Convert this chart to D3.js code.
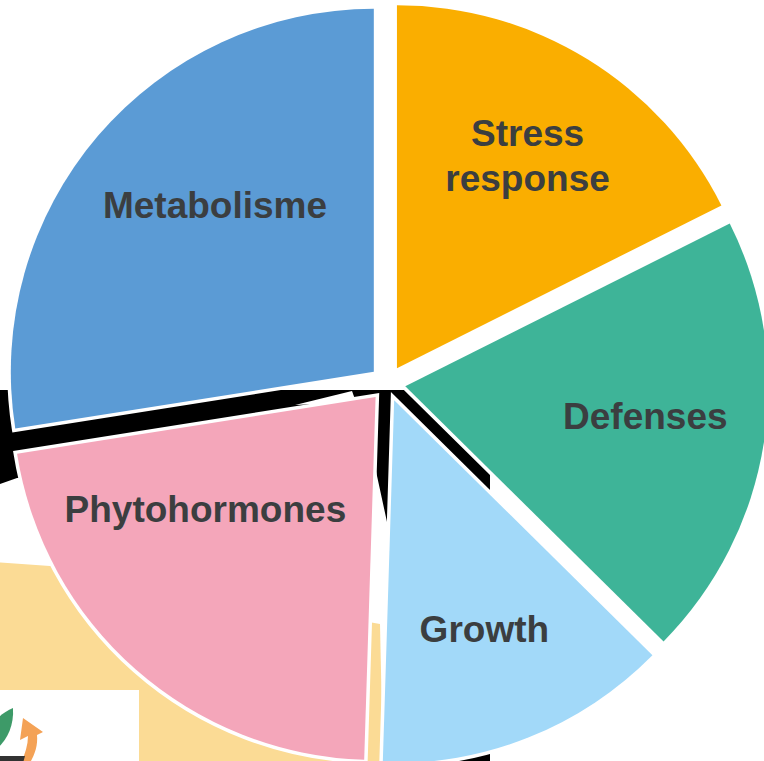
<!DOCTYPE html>
<html><head><meta charset="utf-8">
<script src="https://cdn.jsdelivr.net/npm/d3@7/dist/d3.min.js"></script>
<style>html,body{margin:0;padding:0;background:#fff;overflow:hidden}svg{display:block}</style>
</head><body><svg id="c" width="764" height="761"></svg>
<script>
const categories = ["Stress response","Defenses","Growth","Phytohormones","Metabolisme"];
const values = [17.6,19.8,13.1,22.0,27.5];
const colors = ["#FAAE00","#3EB498","#A2D9F9","#F4A6BA","#5B9BD5"];
const labelLines = [["Stress","response"],["Defenses"],["Growth"],["Phytohormones"],["Metabolisme"]];

const W=764,H=761,cx=387.5,cy=383.5,R=363,explode=18,labelR=243;
const labelNudge=[[3,-6],[0,-8],[0,3],[-9.5,-70],[26,-9]];
const svg=d3.select("#c");

// backdrop left over behind the pie
const defs=svg.append("defs");
defs.append("filter").attr("id","soft").append("feGaussianBlur").attr("stdDeviation",0.7);
const bg=svg.append("g");
const line=d3.line();
bg.append("path").attr("fill","#000").attr("d",line([[0,390],[352,390],[490,390],[490,490],[420,490],[387,522],[374,462],[17,478],[0,484]])+"Z");
bg.append("path").attr("fill","#fff").attr("d",line([[295,405],[352,391],[356,402]])+"Z");
bg.append("rect").attr("x",440).attr("y",740).attr("width",50).attr("height",21).attr("fill","#000");
bg.append("path").attr("fill","#FBDB95").attr("filter","url(#soft)").attr("d",line([[-5,562],[50,566],[380,624],[383,766],[-5,766]])+"Z");
bg.append("rect").attr("x",0).attr("y",690).attr("width",139).attr("height",71).attr("fill","#fff");
const logo=bg.append("g").attr("filter","url(#soft)");
logo.append("path").attr("fill","#3E9A68").attr("d","M13,708 C14,725 8,738 -2,748 L-2,718 C3,713 8,710 13,708Z");
logo.append("path").attr("fill","#F4A257").attr("d","M23,718 L43,732 L37,735 C38,745 35,754 30,763 L21,763 C25,754 28,745 28,736 L20,740 Z");
logo.append("path").attr("fill","#333").attr("d","M-2,756 L25,756 L23,763 L-2,763Z");

// pie
const pie=d3.pie().sort(null).value(d=>d);
const arcs=pie(values);
const arc=d3.arc().innerRadius(0).outerRadius(R);
const ang=d=>(d.startAngle+d.endAngle)/2;
const g=svg.append("g").attr("transform",`translate(${cx},${cy})`);
const off=d=>[Math.sin(ang(d))*explode,-Math.cos(ang(d))*explode];
g.selectAll("path").data(arcs).join("path")
 .attr("d",arc)
 .attr("transform",d=>`translate(${off(d)})`)
 .attr("fill",(d,i)=>colors[i])
 .attr("stroke","#fff").attr("stroke-width",7).attr("stroke-linejoin","miter")
 .style("paint-order","stroke");

const labels=g.selectAll("text").data(arcs).join("text")
 .attr("text-anchor","middle")
 .attr("font-family","'Liberation Sans',Arial,sans-serif")
 .attr("font-weight","bold").attr("font-size",37).attr("fill","#3B3E40")
 .attr("transform",(d,i)=>{
   const o=off(d);
   return `translate(${o[0]+Math.sin(ang(d))*labelR+labelNudge[i][0]},${o[1]-Math.cos(ang(d))*labelR+labelNudge[i][1]})`;
 });
labels.selectAll("tspan").data((d,i)=>labelLines[i].map((t,j,a)=>({t,j,n:a.length}))).join("tspan")
 .attr("x",0).attr("y",d=>13+(d.j-(d.n-1)/2)*45).text(d=>d.t);
</script></body></html>
